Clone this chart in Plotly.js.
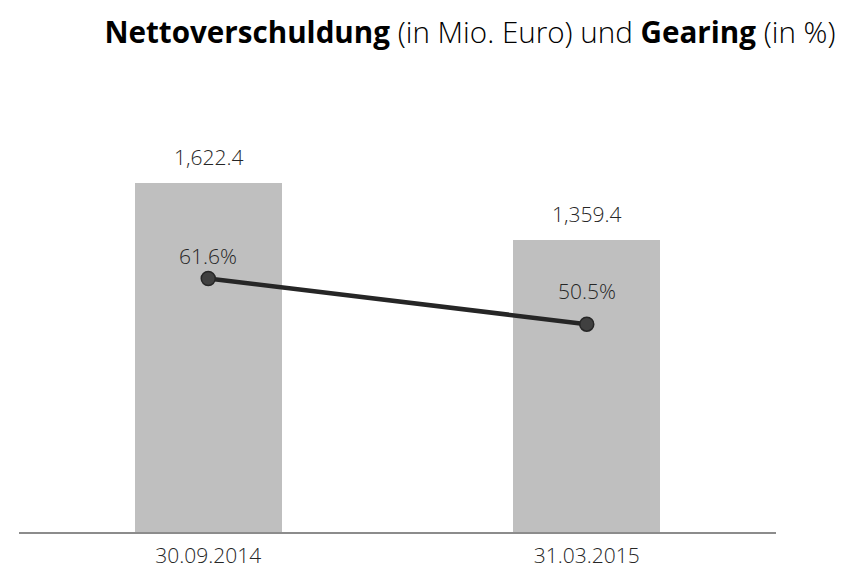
<!DOCTYPE html>
<html>
<head>
<meta charset="utf-8">
<script src="https://cdn.plot.ly/plotly-3.0.1.min.js"></script>
<style>html,body{margin:0;padding:0;background:#fff;}#chart{width:843px;height:573px;}</style>
</head>
<body>
<div id="chart"></div>
<script>
const categories = ["30.09.2014", "31.03.2015"];
const nettoverschuldung = [1622.4, 1359.4];
const gearing = [61.6, 50.5];
const barLabels = ["1,622.4", "1,359.4"];
const gearingLabels = ["61.6%", "50.5%"];
const gearingLabelShift = [22, 33];

const FONT = "Open Sans, Noto Sans, sans-serif";
const TEXT = "#262626";

const bars = {
  type: "bar",
  x: categories,
  y: nettoverschuldung,
  width: 0.389,
  marker: {color: "#bfbfbf", line: {width: 0}},
  hoverinfo: "skip",
  yaxis: "y"
};
const line = {
  type: "scatter",
  mode: "lines+markers",
  x: categories,
  y: gearing,
  yaxis: "y2",
  line: {color: "#262626", width: 4.5},
  marker: {size: 14, color: "#404040", line: {color: "#262626", width: 1.5}},
  hoverinfo: "skip"
};

const annotations = [];
categories.forEach((c, i) => {
  annotations.push({
    x: c, y: nettoverschuldung[i], xref: "x", yref: "y",
    text: barLabels[i], showarrow: false,
    yanchor: "middle", yshift: 26,
    font: {family: FONT, size: 21, color: TEXT, weight: 300}
  });
  annotations.push({
    x: c, y: gearing[i], xref: "x", yref: "y2",
    text: gearingLabels[i], showarrow: false,
    yanchor: "middle", yshift: gearingLabelShift[i],
    font: {family: FONT, size: 21, color: TEXT, weight: 300}
  });
});

const layout = {
  width: 843, height: 573,
  margin: {l: 19, r: 67, t: 100, b: 41},
  paper_bgcolor: "#fff", plot_bgcolor: "#fff",
  showlegend: false,
  title: {
    text: "<b>Nettoverschuldung</b> (in Mio. Euro) und <b>Gearing</b> (in %)",
    font: {family: FONT, size: 29.6, color: "#000", weight: 300},
    x: 470 / 843, xref: "container", xanchor: "center",
    y: 1 - 33 / 573, yref: "container", yanchor: "middle"
  },
  xaxis: {
    type: "category",
    range: [-0.5, 1.5],
    showline: true, linecolor: "#8c8c8c", linewidth: 2,
    showgrid: false, zeroline: false, ticks: "",
    ticklabelstandoff: 4,
    tickfont: {family: FONT, size: 21, color: TEXT, weight: 300},
    fixedrange: true
  },
  yaxis: {
    range: [0, 2009], visible: false, showgrid: false, zeroline: false, fixedrange: true
  },
  yaxis2: {
    range: [0, 104.96], overlaying: "y", side: "right", visible: false,
    showgrid: false, zeroline: false, fixedrange: true
  },
  annotations: annotations,
  bargap: 0
};

Plotly.newPlot("chart", [bars, line], layout, {displayModeBar: false, staticPlot: true});
</script>
</body>
</html>
